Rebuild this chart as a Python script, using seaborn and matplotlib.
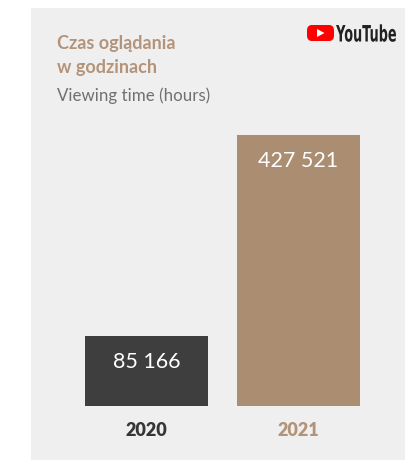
import matplotlib
matplotlib.use("Agg")
import matplotlib.pyplot as plt
import seaborn as sns
import pandas as pd
from matplotlib.patches import Rectangle, FancyBboxPatch, Polygon, PathPatch
from matplotlib.textpath import TextPath
from matplotlib.font_manager import FontProperties
from matplotlib.transforms import Affine2D

# ---- data ----
years = ["2020", "2021"]
hours = [85166, 427521]
value_labels = ["85 166", "427 521"]
title_pl = ["Czas oglądania", "w godzinach"]
title_en = "Viewing time (hours)"

# ---- style ----
DARK = "#3E3E3E"
TAN = "#AB8D72"
TAN_TEXT = "#B3947A"
PANEL = "#EFEFEF"
bar_colors = [DARK, TAN]
year_colors = ["#363636", TAN_TEXT]

sns.set_theme(style="white")
plt.rcParams["font.family"] = ["Lato", "DejaVu Sans"]

W, H = 406, 462
fig = plt.figure(figsize=(W / 100, H / 100), dpi=100)
fig.patch.set_facecolor("white")

def fx(px):
    return px / W

def fy(py):
    return 1 - py / H

# gray panel
fig.patches.append(Rectangle((fx(31), fy(460)), fx(406) - fx(31), fy(8) - fy(460),
                             transform=fig.transFigure, facecolor=PANEL,
                             edgecolor="none", zorder=-5))

# bar axes: x pixel 31..406, y pixel 135..406
ax = fig.add_axes([fx(31), fy(406), fx(406) - fx(31), fy(135) - fy(406)])
ax.set_zorder(1)
ax.set_facecolor("none")
df = pd.DataFrame({"year": years, "hours": hours})
sns.barplot(data=df, x="year", y="hours", hue="year", palette=bar_colors,
            width=0.809, legend=False, ax=ax, saturation=1, linewidth=0,
            edgecolor="none")
ax.set_yscale("log")
ax.set_ylim(48570, 427521)
unit = 152.0
ax.set_xlim(-(146.5 - 31) / unit, 1 + (406 - 298.5) / unit)
for s in ax.spines.values():
    s.set_visible(False)
ax.set_xticks([])
ax.set_yticks([])
ax.minorticks_off()
ax.set_xlabel("")
ax.set_ylabel("")

# value labels inside bar tops
for i, (v, lab) in enumerate(zip(hours, value_labels)):
    ax.annotate(lab, xy=(i, v), xytext=(0, -26), textcoords="offset pixels",
                ha="center", va="center", color="white", fontsize=15.5,
                fontweight="normal", annotation_clip=False)

# year labels below bars
for i, (yr, c) in enumerate(zip(years, year_colors)):
    ax.annotate(yr, xy=(i, 0), xycoords=("data", "axes fraction"),
                xytext=(0, -25), textcoords="offset pixels",
                ha="center", va="center", color=c, fontsize=13,
                fontweight="heavy", annotation_clip=False)

# titles
fig.text(fx(57), fy(44), title_pl[0], color=TAN_TEXT, fontsize=13,
         fontweight="bold", ha="left", va="center")
fig.text(fx(57), fy(68), title_pl[1], color=TAN_TEXT, fontsize=13,
         fontweight="bold", ha="left", va="center")
fig.text(fx(57), fy(96), title_en, color="#707070", fontsize=12.2,
         ha="left", va="center")

# YouTube logo
fig.patches.append(FancyBboxPatch((fx(307), fy(41)), fx(334) - fx(307), fy(25) - fy(41),
                                  boxstyle="round,pad=0,rounding_size=0.012",
                                  transform=fig.transFigure, facecolor="#FF0000",
                                  edgecolor="none", zorder=2))
fig.patches.append(Polygon([(fx(317), fy(29)), (fx(317), fy(37)), (fx(324.5), fy(33))],
                           closed=True, transform=fig.transFigure,
                           facecolor="white", edgecolor="none", zorder=3))
tp = TextPath((0, 0), "YouTube", size=1,
              prop=FontProperties(family="DejaVu Sans", weight="bold"))
bb = tp.get_extents()
sx = 60.0 / bb.width
sy = 16.5 / 0.73
tr = Affine2D().translate(-bb.x0, 0).scale(sx, sy).translate(336, H - 41.5)
fig.patches.append(PathPatch(tr.transform_path(tp), transform=None,
                             facecolor="#212121", edgecolor="none", zorder=3))

fig.savefig("out.png", dpi=100, facecolor="white")
